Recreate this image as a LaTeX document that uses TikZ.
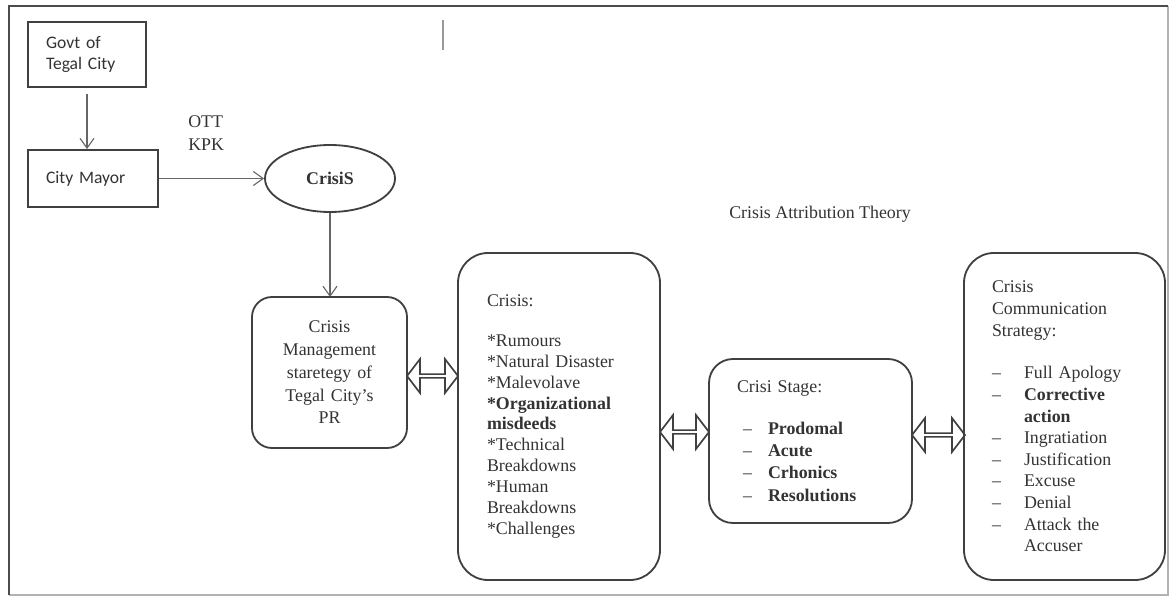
\documentclass[tikz,border=0pt]{standalone}
\usepackage{fontspec}
\setmainfont{Liberation Serif}
\newfontfamily\calibri{Carlito}
\usetikzlibrary{arrows.meta,shapes.geometric,shapes.arrows}

\newcommand{\dashitem}[2][0.8cm]{\makebox[#1][l]{--}#2}

\tikzset{
  plainbox/.style={draw=black!75, line width=1.3pt, align=left, inner xsep=0.45cm,
    font=\calibri\fontsize{12.5}{15.6}\selectfont, text=black!80},
  roundbox/.style={draw=black!75, line width=1.3pt, rounded corners=#1, align=left,
    text=black!80},
  dblarrow/.style={double arrow, draw=black!75, line width=1.2pt, inner sep=0pt,
    minimum width=0.85cm, double arrow head extend=0.17cm, double arrow tip angle=105},
  conn/.style={-{Straight Barb[length=7pt,width=10pt]}, draw=black!60, line width=0.8pt},
}

\begin{document}
\begin{tikzpicture}[font=\fontsize{12.7}{15}\selectfont]
  \useasboundingbox (0,0) rectangle (29.325,-14.925);
  % frame of the page
  \draw[black!30, line width=1pt] (0.225,-14.875) -- (29.2,-14.875) -- (29.2,-0.15);
  \draw[black!70, line width=1.5pt] (0.225,-14.875) -- (0.225,-0.15) -- (29.2,-0.15);
  \draw[black!40, line width=0.8pt] (11.075,-0.5) -- (11.075,-1.25);

  % top left chain
  \node[plainbox, text width=2.05cm, minimum height=1.625cm] (govt) at (2.175,-1.3625) {Govt of\\Tegal City};
  \node[plainbox, text width=2.35cm, minimum height=1.425cm] (mayor) at (2.325,-4.4625) {City Mayor};
  \node[ellipse, draw=black!75, line width=1.3pt, minimum width=3.25cm, minimum height=1.675cm,
    font=\fontsize{12.7}{15}\selectfont\bfseries, text=black!80] (crisis) at (8.25,-4.4625) {CrisiS};
  \node[anchor=west, align=left, inner sep=0pt, text=black!80,
    font=\fontsize{12.7}{16.3}\selectfont] (ott) at (4.7,-3.3375) {OTT\\KPK};

  \draw[conn, shorten <=0.15cm] (govt.south) -- (govt.south |- mayor.north);
  \draw[conn] (mayor.east) -- (crisis.west);
  \draw[conn] (crisis.south) -- (8.25,-7.425);

  % theory boxes
  \node[roundbox=0.5cm, align=center, text width=3.475cm, inner xsep=0.2cm,
    minimum height=3.775cm, font=\fontsize{12.7}{16.2}\selectfont] (cms) at (8.2375,-9.3125)
    {Crisis\\Management\\staretegy of\\Tegal City's\\PR};
  \node[roundbox=0.75cm, text width=3.6cm, inner xsep=0.725cm, minimum height=8.175cm,
    font=\fontsize{12.7}{14.8}\selectfont] (crs) at (13.975,-10.4125)
    {Crisis:\\[13.5pt]{*}Rumours\\{*}Natural Disaster\\{*}Malevolave\\\textbf{*Organizational}\\\textbf{misdeeds}\\{*}Technical\\Breakdowns\\{*}Human\\Breakdowns\\{*}Challenges};
  \node[roundbox=0.6cm, text width=3.675cm, inner xsep=0.7cm, minimum height=4.1cm,
    font=\fontsize{12.7}{15.8}\selectfont] (stage) at (20.2625,-11.025)
    {Crisi Stage:\\[14pt]
     \hspace*{0.15cm}\dashitem[0.625cm]{\textbf{Prodomal}}\\
     \hspace*{0.15cm}\dashitem[0.625cm]{\textbf{Acute}}\\
     \hspace*{0.15cm}\dashitem[0.625cm]{\textbf{Crhonics}}\\
     \hspace*{0.15cm}\dashitem[0.625cm]{\textbf{Resolutions}}};
  \node[roundbox=0.75cm, text width=3.625cm, inner xsep=0.7cm, minimum height=8.175cm,
    font=\fontsize{12.7}{15.4}\selectfont] (ccs) at (26.6125,-10.4125)
    {Crisis\\Communication\\Strategy:\\[15pt]
     \dashitem{Full Apology}\\
     \dashitem{\textbf{Corrective}}\\
     \hspace*{0.8cm}\textbf{action}\\
     \dashitem{Ingratiation}\\
     \dashitem{Justification}\\
     \dashitem{Excuse}\\
     \dashitem{Denial}\\
     \dashitem{Attack the}\\
     \hspace*{0.8cm}Accuser};

  \node[text=black!80] (theory) at (20.5,-5.35) {Crisis Attribution Theory};

  % two-way arrows between the boxes
  \node[dblarrow, minimum height=1.275cm] (a1) at (10.8125,-9.4) {};
  \node[dblarrow, minimum height=1.225cm] (a2) at (17.1125,-10.8) {};
  \node[dblarrow, minimum height=1.325cm] (a3) at (23.4625,-10.875) {};
\end{tikzpicture}
\end{document}
